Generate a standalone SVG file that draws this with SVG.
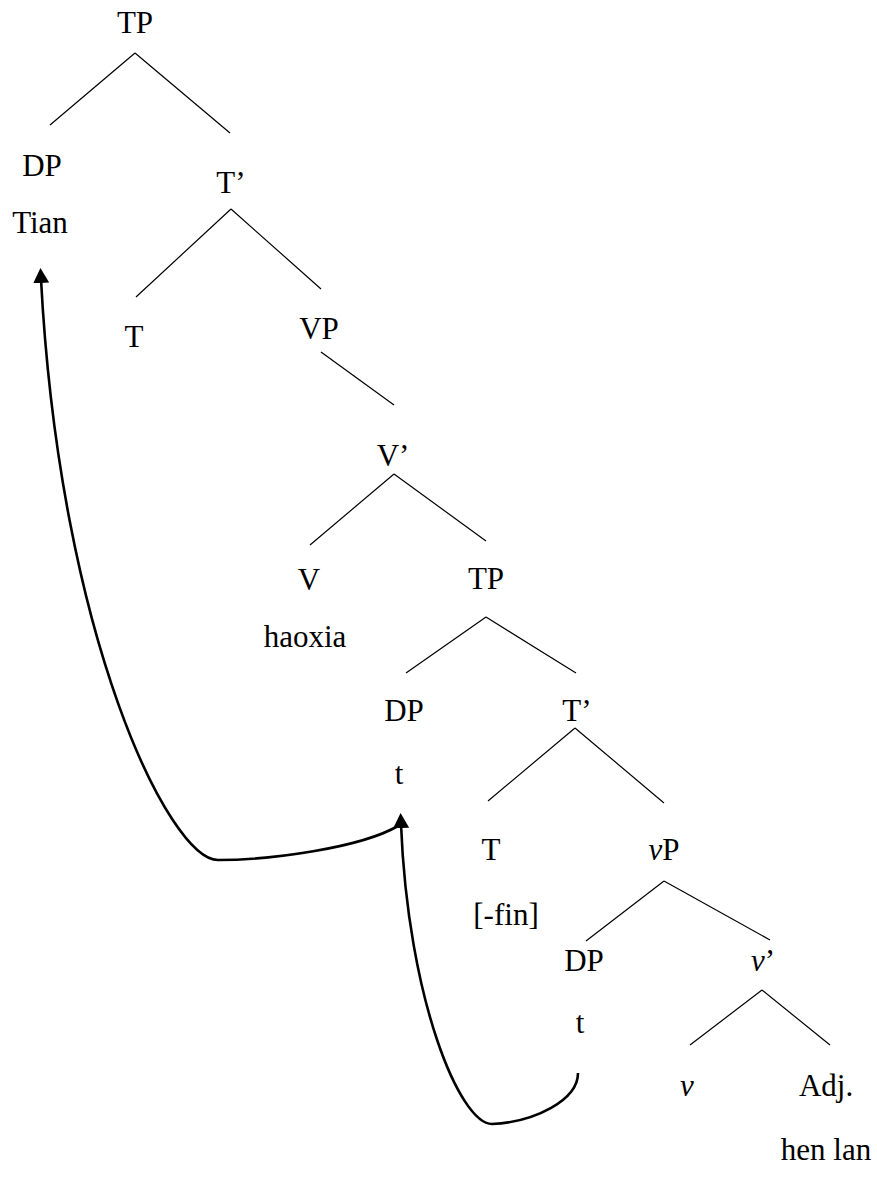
<svg xmlns="http://www.w3.org/2000/svg" width="877" height="1189" viewBox="0 0 877 1189">
  <style>
    .lbl text { font-size: 31px; fill: #000; text-anchor: middle; }
    .it { font-style: italic; }
    .branch { stroke: #000; stroke-width: 1.2; fill: none; }
    .move { stroke: #000; stroke-width: 2.6; fill: none; marker-end: url(#head); }
  </style>
  <defs>
    <marker id="head" markerUnits="userSpaceOnUse" viewBox="0 0 15 16" refX="4" refY="8" markerWidth="15" markerHeight="16" orient="auto">
      <path d="M0,0 L15,8 L0,16 z" fill="#000"/>
    </marker>
  </defs>

  <!-- tree branches -->
  <g id="connectors">
    <path class="branch" d="M135,53 L50,125 M135,53 L230,133"/>
    <path class="branch" d="M231,209 L136,297 M231,209 L321,289"/>
    <path class="branch" d="M321,352 L394,405"/>
    <path class="branch" d="M394,474 L310,545 M394,474 L486,541"/>
    <path class="branch" d="M486,617 L406,673 M486,617 L576,673"/>
    <path class="branch" d="M575,728 L488,801 M575,728 L664,803"/>
    <path class="branch" d="M664,881 L586,941 M664,881 L770,940"/>
    <path class="branch" d="M762,990 L690,1045 M762,990 L830,1045"/>
    <!-- movement arrows: trace to Tian, and lower trace to upper trace -->
    <path class="move" d="M398,826 C360,848 270,860 218,860 C170,860 60,640 41,279"/>
    <path class="move" d="M578,1073 C578,1100 535,1122 492,1124 C460,1124 408,1000 401,824"/>
  </g>

  <g class="lbl" font-family="Liberation Serif, Times New Roman, serif">
    <g id="n-tp1"><text x="135" y="33">TP</text></g>
    <g id="n-dp1"><text x="42" y="176">DP</text><text x="40" y="233">Tian</text></g>
    <g id="n-tbar1"><text x="231" y="193">T’</text></g>
    <g id="n-t1"><text x="134" y="347">T</text></g>
    <g id="n-vp"><text x="319" y="339">VP</text></g>
    <g id="n-vbar"><text x="393" y="466">V’</text></g>
    <g id="n-v"><text x="309" y="590">V</text><text x="305" y="647">haoxia</text></g>
    <g id="n-tp2"><text x="486" y="589">TP</text></g>
    <g id="n-dp2"><text x="404" y="721">DP</text><text x="399" y="784">t</text></g>
    <g id="n-tbar2"><text x="577" y="721">T’</text></g>
    <g id="n-t2"><text x="491" y="860">T</text><text x="506" y="925">[-fin]</text></g>
    <g id="n-littlevp"><text x="664" y="860"><tspan class="it">v</tspan>P</text></g>
    <g id="n-dp3"><text x="584" y="971">DP</text><text x="580" y="1033">t</text></g>
    <g id="n-littlevbar"><text x="763" y="971"><tspan class="it">v</tspan>’</text></g>
    <g id="n-littlev"><text class="it" x="687" y="1096">v</text></g>
    <g id="n-adj"><text x="826" y="1096">Adj.</text><text x="826" y="1160">hen lan</text></g>
  </g>
</svg>
